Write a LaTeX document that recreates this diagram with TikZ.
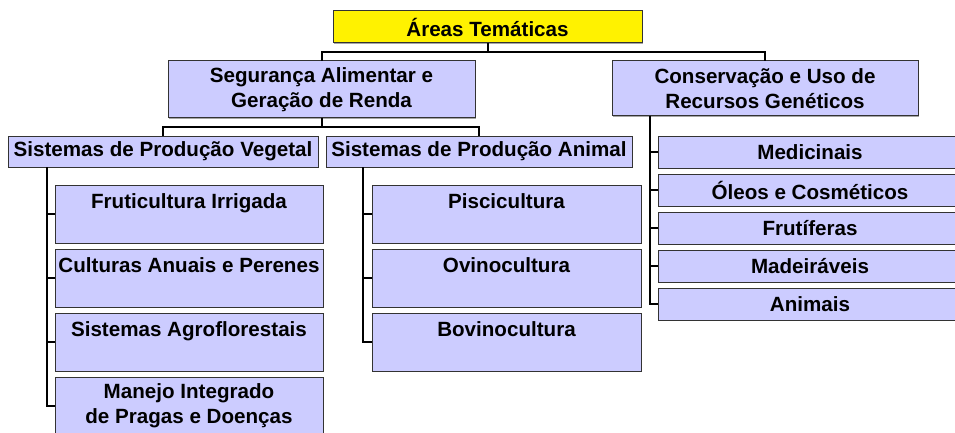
\documentclass[tikz,border=0pt]{standalone}
\usepackage{fontspec}
\setmainfont{Liberation Sans}
\usetikzlibrary{positioning, shadows}
\tikzstyle{area_box} = [rectangle, draw=black!80, line width=1pt, fill=blue!20, inner sep=0pt, outer sep=0pt, align=center, font=\fontsize{20.6}{25}\selectfont\bfseries, drop shadow={shadow xshift=1.2pt, shadow yshift=-1.2pt, fill=black!35, opacity=1}]
\tikzstyle{root_box} = [area_box, fill=yellow]
\tikzstyle{tall_box} = [area_box, minimum width=268pt, minimum height=58pt]
\tikzstyle{flat_box} = [area_box, minimum width=304pt, minimum height=32pt]
\tikzstyle{tree_line} = [line width=2pt]

\begin{document}
\begin{tikzpicture}[x=1pt, y=-1pt, node distance=6pt]
\useasboundingbox (0,0) rectangle (955,433);

\node (areas) [root_box, minimum width=309pt, minimum height=32pt] at (487.5,27) {Áreas Temáticas};
\node (seguranca) [area_box, minimum width=307pt, minimum height=57pt] at (321.5,89.5) {Segurança Alimentar e\\Geração de Renda};
\node (conservacao) [area_box, minimum width=306pt, minimum height=55pt] at (765,88.5) {Conservação e Uso de\\Recursos Genéticos};
\node (vegetal) [area_box, minimum width=310pt, minimum height=31pt] at (163,151.5) {Sistemas de Produção Vegetal};
\node (animal) [area_box, minimum width=306pt, minimum height=31pt] at (479,151.5) {Sistemas de Produção Animal};

% producao vegetal
\node (fruticultura) [tall_box] at (189,214) {Fruticultura Irrigada\\\mbox{}};
\node (culturas) [tall_box, below=of fruticultura] {Culturas Anuais e Perenes\\\mbox{}};
\node (agroflorestais) [tall_box, below=of culturas] {Sistemas Agroflorestais\\\mbox{}};
\node (manejo) [tall_box, below=of agroflorestais] {Manejo Integrado\\de Pragas e Doenças};

% producao animal
\node (piscicultura) [tall_box, minimum width=269pt] at (506.5,214) {Piscicultura\\\mbox{}};
\node (ovinocultura) [tall_box, minimum width=269pt, below=of piscicultura] {Ovinocultura\\\mbox{}};
\node (bovinocultura) [tall_box, minimum width=269pt, below=of ovinocultura] {Bovinocultura\\\mbox{}};

% recursos geneticos
\node (medicinais) [flat_box] at (810,152) {Medicinais};
\node (oleos) [flat_box, below=of medicinais] {Óleos e Cosméticos};
\node (frutiferas) [flat_box, below=of oleos] {Frutíferas};
\node (madeiraveis) [flat_box, below=of frutiferas] {Madeiráveis};
\node (animais) [flat_box, below=of madeiraveis] {Animais};

% ligacoes
\draw [tree_line] (areas.south) -- ++(0,9) -| (seguranca.north);
\draw [tree_line] (areas.south) -- ++(0,9) -| (conservacao.north);
\draw [tree_line] (seguranca.south) -- ++(0,9) -| (vegetal.north);
\draw [tree_line] (seguranca.south) -- ++(0,9) -| (animal.north);
\foreach \child in {fruticultura, culturas, agroflorestais, manejo}
  \draw [tree_line] ([xshift=39pt]vegetal.south west) |- (\child.west);
\foreach \child in {piscicultura, ovinocultura, bovinocultura}
  \draw [tree_line] ([xshift=37pt]animal.south west) |- (\child.west);
\foreach \child in {medicinais, oleos, frutiferas, madeiraveis, animais}
  \draw [tree_line] ([xshift=38pt]conservacao.south west) |- (\child.west);
\end{tikzpicture}
\end{document}
